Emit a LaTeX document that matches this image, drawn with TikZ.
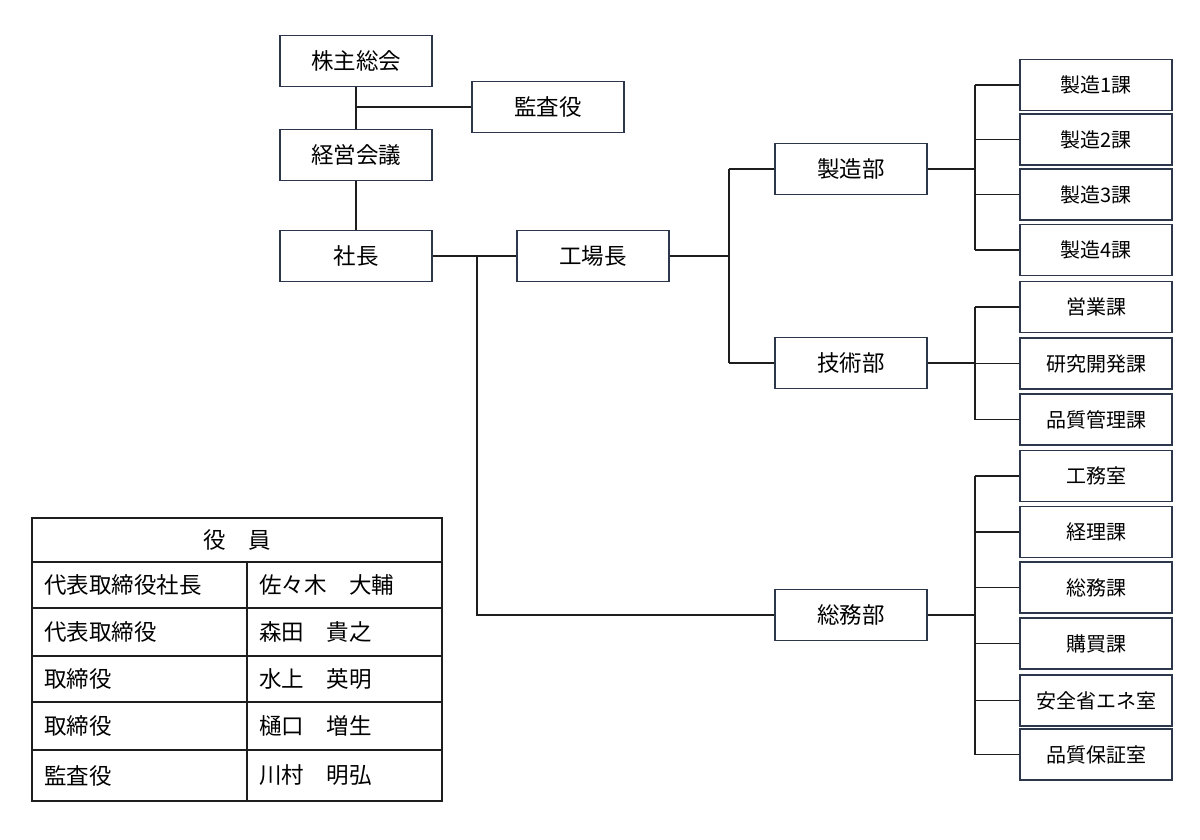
\documentclass[tikz,border=0pt]{standalone}
\usepackage{fontspec}
\setmainfont{Noto Sans CJK JP}
\definecolor{boxc}{RGB}{45,55,75}
\definecolor{linec}{RGB}{30,30,30}
\begin{document}
\begin{tikzpicture}[x=1pt,y=-1pt,
  org/.style={draw=boxc,line width=1.3pt,minimum width=152pt,minimum height=51pt,inner sep=0pt,font=\fontsize{22.5}{22.5}\selectfont},
  sec/.style={draw=boxc,line width=1.3pt,minimum width=152pt,minimum height=51pt,inner sep=0pt,font=\fontsize{20}{20}\selectfont},
  conn/.style={draw=linec,line width=1.2pt},
  cell/.style={anchor=west,inner sep=0pt,font=\fontsize{22.5}{22.5}\selectfont},
  tline/.style={draw=linec,line width=1.3pt}]
\useasboundingbox (0,0) rectangle (1200,840);
% top chain
\node[org] (kabu) at (356,61) {株主総会};
\node[org] (kansa) at (548,107) {監査役};
\node[org] (keiei) at (356,155) {経営会議};
\node[org] (shacho) at (356,256) {社長};
\node[org] (kojo) at (593,256) {工場長};
\node[org] (seizo) at (851,169) {製造部};
\node[org] (gijutsu) at (851,363) {技術部};
\node[org] (somu) at (851,615) {総務部};
% sections
\node[sec] (s1) at (1096,85) {製造1課};
\node[sec] (s2) at (1096,139.5) {製造2課};
\node[sec] (s3) at (1096,194.5) {製造3課};
\node[sec] (s4) at (1096,250) {製造4課};
\node[sec] (t1) at (1096,307) {営業課};
\node[sec] (t2) at (1096,363.5) {研究開発課};
\node[sec] (t3) at (1096,419.5) {品質管理課};
\node[sec] (g1) at (1096,476) {工務室};
\node[sec] (g2) at (1096,532) {経理課};
\node[sec] (g3) at (1096,587.5) {総務課};
\node[sec] (g4) at (1096,643.5) {購買課};
\node[sec] (g5) at (1096,700.5) {安全省エネ室};
\node[sec] (g6) at (1096,754.5) {品質保証室};
% coordinates
\coordinate (kj) at (356,107);
\coordinate (sj) at (477,256);
\coordinate (kjx) at (729,256);
\coordinate (bx1) at (975,169);
\coordinate (bx2) at (975,363);
\coordinate (bx3) at (975,615);
% connectors
\draw[conn] (kabu.south) -- (keiei.north);
\draw[conn] (kj) -- (kansa.west);
\draw[conn] (keiei.south) -- (shacho.north);
\draw[conn] (shacho.east) -- (kojo.west);
\draw[conn] (sj) -- (sj |- somu.west) -- (somu.west);
\draw[conn] (kojo.east) -- (kjx);
\draw[conn] (kjx |- seizo.west) -- (kjx |- gijutsu.west);
\draw[conn] (kjx |- seizo.west) -- (seizo.west);
\draw[conn] (kjx |- gijutsu.west) -- (gijutsu.west);
% seizo bus
\draw[conn] (seizo.east) -- (bx1);
\draw[conn] (bx1 |- s1.west) -- (bx1 |- s4.west);
\foreach \n in {s1,s2,s3,s4} \draw[conn] (bx1 |- \n.west) -- (\n.west);
% gijutsu bus
\draw[conn] (gijutsu.east) -- (bx2);
\draw[conn] (bx2 |- t1.west) -- (bx2 |- t3.west);
\foreach \n in {t1,t2,t3} \draw[conn] (bx2 |- \n.west) -- (\n.west);
% somu bus
\draw[conn] (somu.east) -- (bx3);
\draw[conn] (bx3 |- g1.west) -- (bx3 |- g6.west);
\foreach \n in {g1,g2,g3,g4,g5,g6} \draw[conn] (bx3 |- \n.west) -- (\n.west);
% table
\draw[tline] (32,518) rectangle (442,801);
\foreach \yy in {562,608,656,702,750} \draw[tline] (32,\yy) -- (442,\yy);
\draw[tline] (247,562) -- (247,801);
\node[font=\fontsize{22.5}{22.5}\selectfont] (hdr) at (237,540) {役　員};
\node[cell] (r1a) at (44,585) {代表取締役社長};
\node[cell] (r1b) at (259,585) {佐々木　大輔};
\node[cell] (r2a) at (44,632) {代表取締役};
\node[cell] (r2b) at (259,632) {森田　貴之};
\node[cell] (r3a) at (44,679) {取締役};
\node[cell] (r3b) at (259,679) {水上　英明};
\node[cell] (r4a) at (44,726) {取締役};
\node[cell] (r4b) at (259,726) {樋口　増生};
\node[cell] (r5a) at (44,775.5) {監査役};
\node[cell] (r5b) at (259,775.5) {川村　明弘};
\end{tikzpicture}
\end{document}
